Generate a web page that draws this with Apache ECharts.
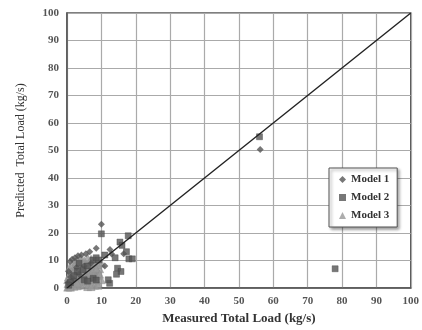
<!DOCTYPE html>
<html>
<head>
<meta charset="utf-8">
<script src="https://cdn.jsdelivr.net/npm/echarts@6/dist/echarts.min.js"></script>
<style>html,body{margin:0;padding:0;background:#fff}#c{width:422px;height:330px}</style>
</head>
<body>
<div id="c"></div>
<script>
var seriesNames = ["Model 1", "Model 2", "Model 3"];
var xTicks = [0,10,20,30,40,50,60,70,80,90,100];
var yTicks = [0,10,20,30,40,50,60,70,80,90,100];
var model1 = [[10,23.2],[56.2,50.4],[8.5,14.5],[6.6,13.2],[5.5,12.5],[3.2,11.7],[2.3,11],[0.9,9.6],[1.5,10.5],[4.2,12],[0.5,6],[1,4],[0.3,2],[2,3],[12.5,14],[16.5,12.5],[13,12.4],[11,8],[3.5,5],[5,8],[7,9],[2.8,7.5]];
var model2 = [[10,19.7],[56,55],[78,7],[17.8,19],[15.4,16.7],[17.3,13.2],[18,10.6],[19,10.6],[14,11],[14.7,7.2],[15.7,6],[14.4,5],[12.4,1.7],[7.6,10.2],[9.2,10.2],[8.5,11],[7.6,3.5],[8.5,2.9],[4.7,6.6],[6,8],[3,6],[2,4.5],[1,2],[0.5,1],[11,12],[12,3],[16,15.5],[5,3],[3.5,9],[6,2.5]];
var model3 = [[0.2,0.3],[0.5,0.5],[1,0.8],[1.5,1.2],[2,1.5],[2.5,2],[3,2.5],[3.5,3],[4,3.5],[4.5,3.8],[5,4],[6,4.5],[7,5],[8,5.5],[9,6],[1,3],[1.5,4],[2,5],[2.5,6],[3,7],[3.5,8],[4,7],[5,6],[6,7],[7,7.5],[8,8],[0.5,2],[0.3,1.5],[1,1.8],[2,2.5],[3,4],[4,5],[5,5.5],[6,6],[7,3],[8,4],[9,4.5],[6,2],[5,1.5],[4,1],[3,0.8],[2,0.6],[8,1],[9,2],[7,1.5],[1.2,6],[2.2,8],[1.8,7],[4.5,9],[3.8,10],[6.5,9.5],[0.8,5],[9.5,7],[10,9],
  [0.7,7.5],[1.5,8.5],[2.5,9.5],[3,10.5],[4,11],[5,10],[6,11],[7,10.5],[8,9.5],[9,8.5],[5.5,8.5],[4.5,7.5],[3.5,6.5],[2.5,4.5],[1.5,2.5],[6.5,5.5],[7.5,6.5],[8.5,7],[9.5,5],[10,3],[9,1],[6,0.5],[4,2.5],[5.5,3],[3,1.8],[1,0.3],[7,0.5],[8.5,3],[0.4,4],[0.2,3],[1.8,5.5],[2.8,5.5],[4.5,5],[6,3.5]];
var identity = [[0,0],[100,100]];

var chart = echarts.init(document.getElementById('c'), null, {renderer:'canvas'});
var font = "'Liberation Serif', 'DejaVu Serif', serif";
chart.setOption({
  animation:false,
  backgroundColor:'#fff',
  grid:{left:67,right:7,top:13,bottom:42,show:true,borderColor:'#555',borderWidth:1.5},
  legend:{
    orient:'vertical', left:329, top:168, padding:[6,8,6,10], itemGap:7,
    itemWidth:7, itemHeight:7,
    backgroundColor:'#fff', borderColor:'#555', borderWidth:1,
    shadowColor:'rgba(0,0,0,0.4)', shadowBlur:3, shadowOffsetX:2, shadowOffsetY:2,
    itemStyle:{borderWidth:0},
    textStyle:{fontFamily:font,fontWeight:'bold',fontSize:11,color:'#333'},
    data:[{name:seriesNames[0],icon:'diamond'},{name:seriesNames[1],icon:'rect'},{name:seriesNames[2],icon:'triangle'}]
  },
  xAxis:{
    type:'value',min:0,max:100,interval:10,
    name:'Measured Total Load (kg/s)',nameLocation:'middle',nameGap:24,
    nameTextStyle:{fontFamily:font,fontWeight:'bold',fontSize:13,color:'#333'},
    axisLine:{show:true,lineStyle:{color:'#555',width:1.5}},
    axisTick:{show:false},
    axisLabel:{margin:8,fontFamily:font,fontWeight:'bold',fontSize:11,color:'#555',
      formatter:function(v){return xTicks.indexOf(v)>=0?String(v):'';}},
    splitLine:{show:true,lineStyle:{color:'#aaa',width:1.2}}
  },
  yAxis:{
    type:'value',min:0,max:100,interval:10,
    name:'Predicted  Total Load (kg/s)',nameLocation:'middle',nameGap:40,
    nameTextStyle:{fontFamily:font,fontWeight:'normal',fontSize:12,color:'#333'},
    axisLine:{show:true,lineStyle:{color:'#555',width:1.5}},
    axisTick:{show:false},
    axisLabel:{margin:8,fontFamily:font,fontWeight:'bold',fontSize:11,color:'#555',
      formatter:function(v){return yTicks.indexOf(v)>=0?String(v):'';}},
    splitLine:{show:true,lineStyle:{color:'#aaa',width:1.2}}
  },
  series:[
    {name:'identity',type:'line',data:identity,symbol:'none',lineStyle:{color:'#222',width:1.5},z:5,silent:true},
    {name:seriesNames[2],type:'scatter',data:model3,symbol:'triangle',symbolSize:8,itemStyle:{color:'#999',borderColor:'#8a8a8a',borderWidth:0.5},z:2},
    {name:seriesNames[0],type:'scatter',data:model1,symbol:'diamond',symbolSize:7,itemStyle:{color:'#555'},z:3},
    {name:seriesNames[1],type:'scatter',data:model2,symbol:'rect',symbolSize:6,itemStyle:{color:'#555',borderColor:'#444',borderWidth:0.5},z:4}
  ]
});
</script>
</body>
</html>
